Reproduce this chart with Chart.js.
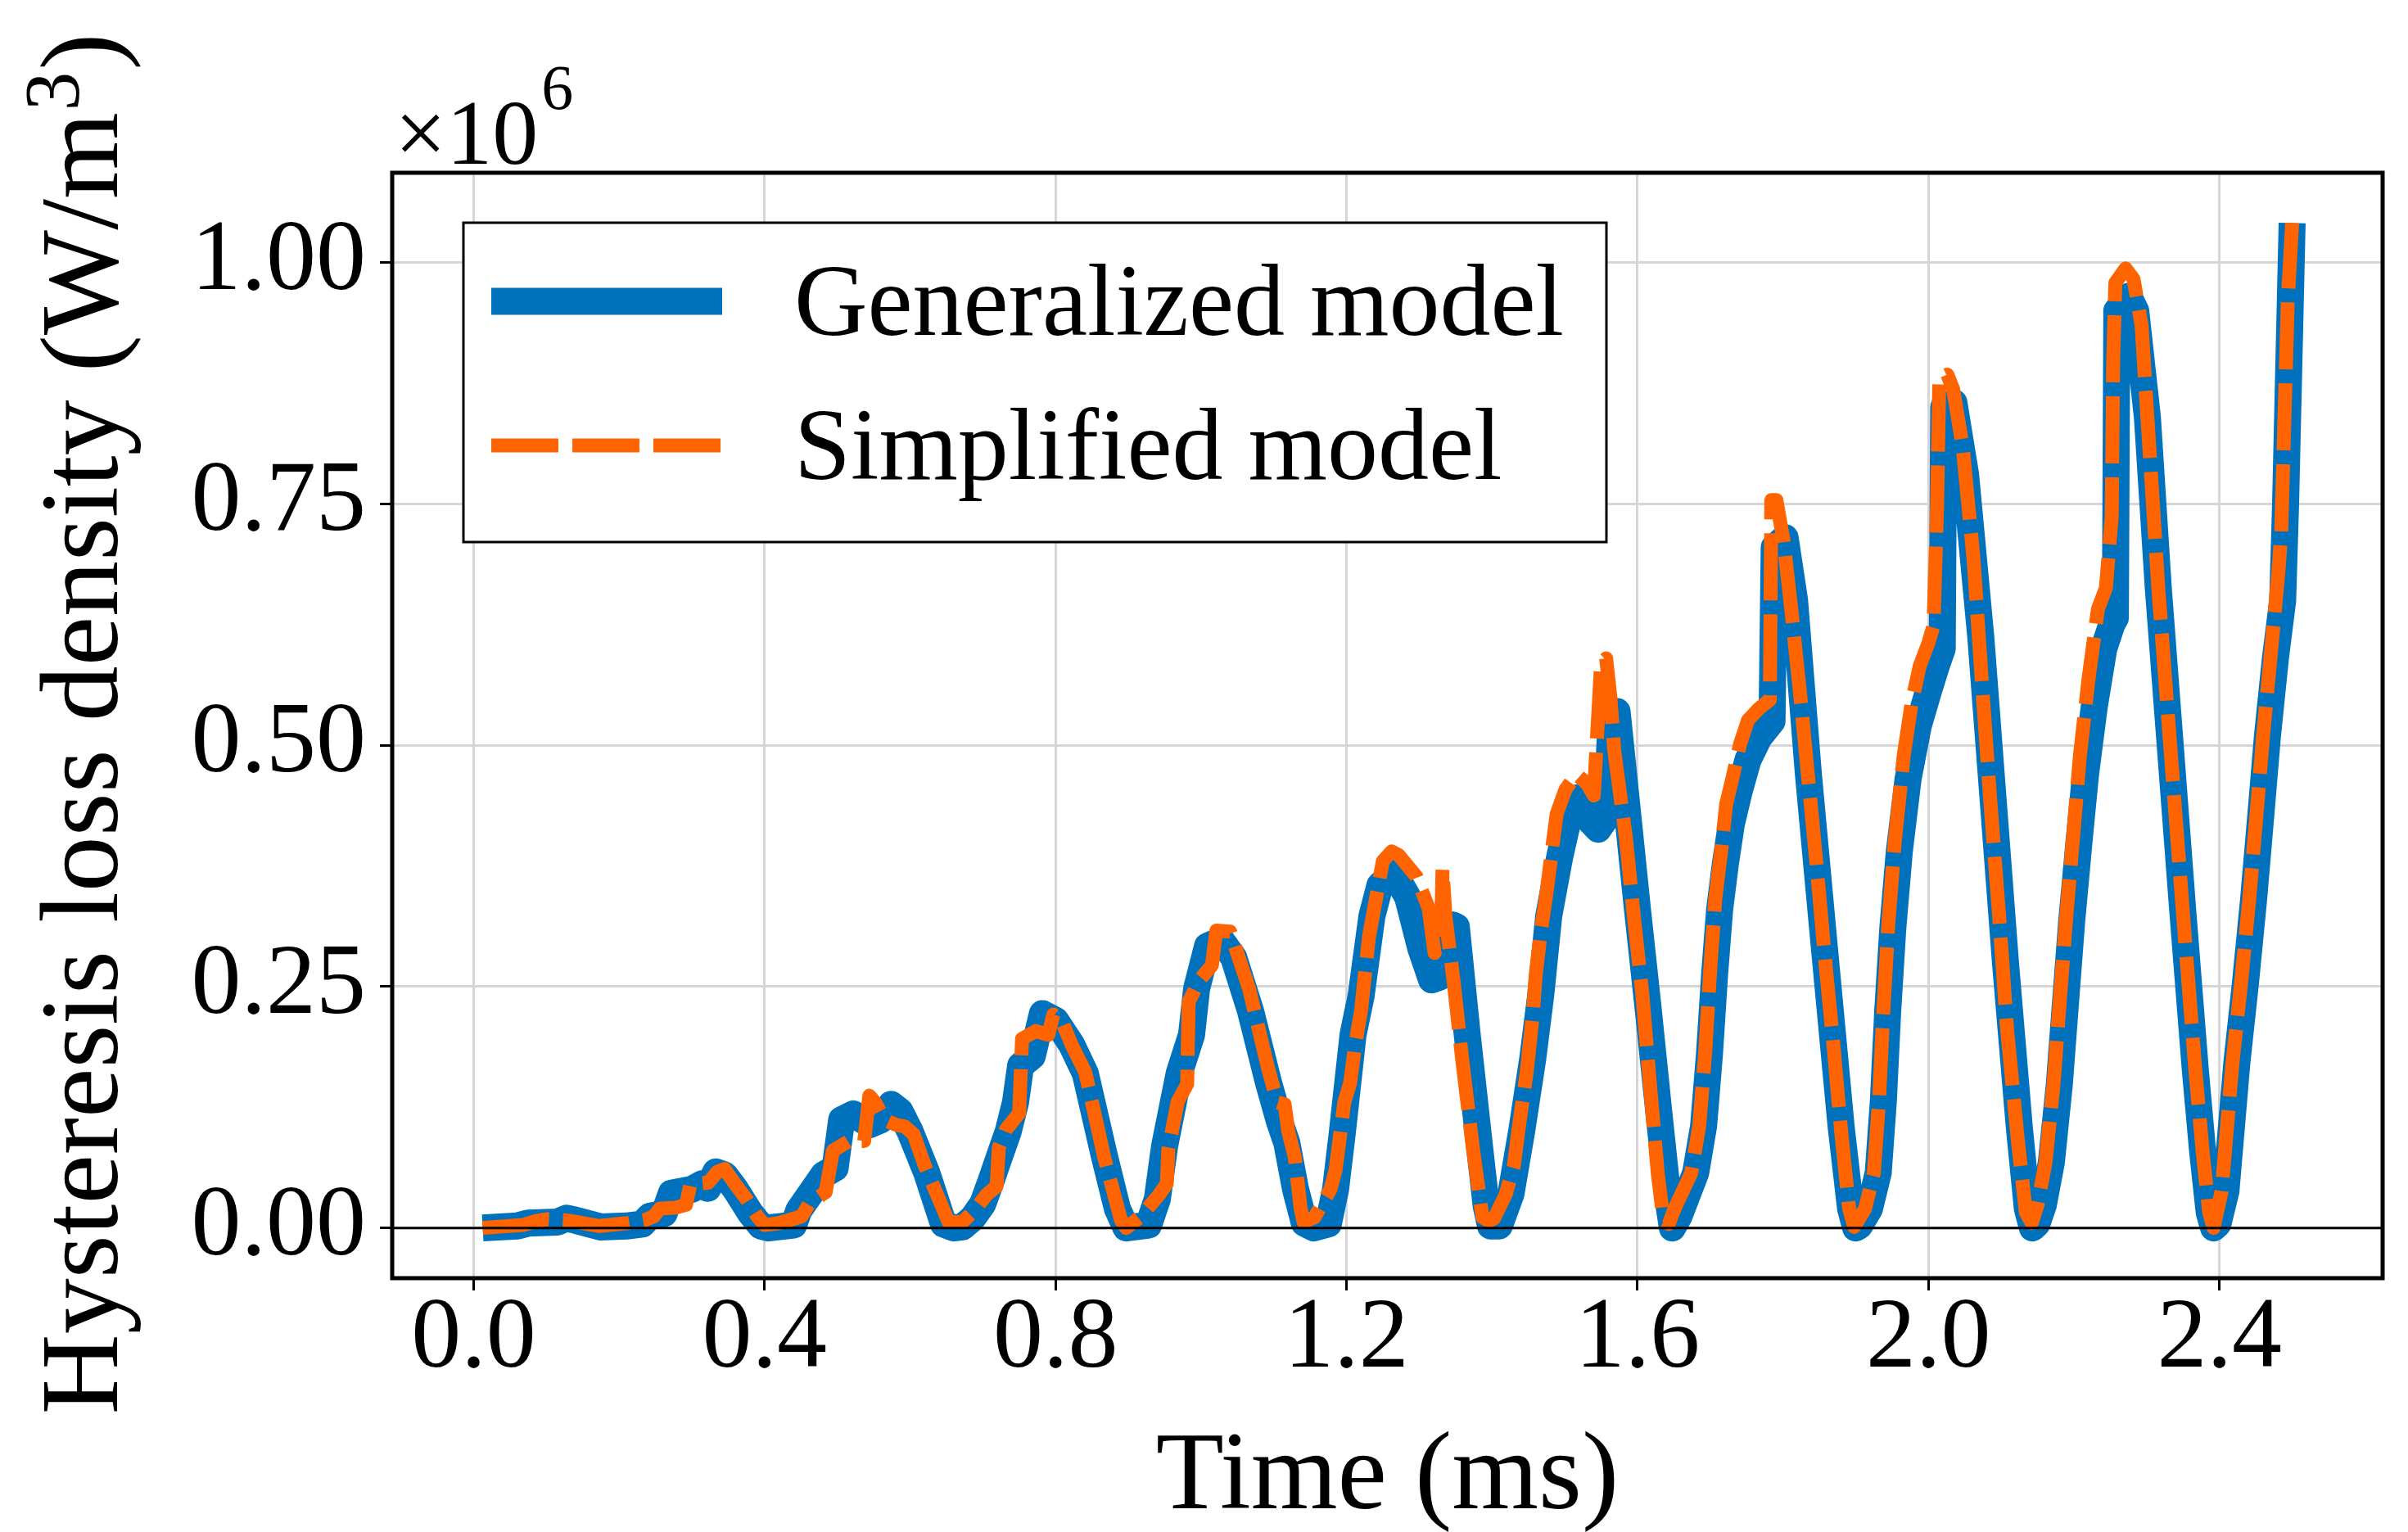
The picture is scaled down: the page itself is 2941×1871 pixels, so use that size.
<!DOCTYPE html>
<html lang="en">
<head>
<meta charset="utf-8">
<title>Hysteresis loss density</title>
<script src="https://cdn.jsdelivr.net/npm/chart.js@4.4.1/dist/chart.umd.min.js"></script>
<style>
  html, body { margin: 0; padding: 0; background: #fff; }
  canvas { display: block; }
</style>
</head>
<body>
<canvas id="loss-chart" width="2941" height="1871" style="width:2941px;height:1871px"></canvas>
<script>
"use strict";

// ── Data (values in units of 1e6 W/m³, time in ms) ──────────────────

const SERIES_LABELS = ["Generalized model", "Simplified model"];
const X_TICKS = [0, 0.4, 0.8, 1.2, 1.6, 2.0, 2.4];
const Y_TICKS = [0, 0.25, 0.5, 0.75, 1.0];
const X_RANGE = [-0.1119, 2.6244];
const Y_RANGE = [-0.05205, 1.09305];
const ZERO_LEVEL = 0;
const OFFSET_EXPONENT = "6";

// Generalized model (solid blue)
const GEN_T = [
  0.0125, 0.060, 0.075, 0.115, 0.128, 0.140, 0.175, 0.210, 0.232, 0.242, 0.262, 0.272, 0.300, 0.315, 0.322, 0.333, 0.345, 0.360, 0.380, 0.395, 0.405,
  0.440, 0.447, 0.481, 0.497, 0.506, 0.522, 0.545, 0.560, 0.574, 0.586, 0.600, 0.623, 0.646, 0.660,
  0.672, 0.686, 0.700, 0.712, 0.722, 0.735, 0.745, 0.752, 0.768, 0.782, 0.800, 0.822, 0.841, 0.867, 0.885, 0.897,
  0.928, 0.940, 0.950, 0.970, 0.987, 0.994, 1.009, 1.028, 1.045, 1.068, 1.093, 1.108, 1.118, 1.130, 1.142, 1.155,
  1.175, 1.185, 1.194, 1.209, 1.220, 1.235, 1.246, 1.265, 1.284, 1.302, 1.317, 1.328, 1.345, 1.351, 1.366, 1.381, 1.392, 1.398,
  1.410, 1.426, 1.441, 1.456, 1.467, 1.478, 1.493, 1.508, 1.520, 1.531, 1.546, 1.557, 1.564, 1.572, 1.585, 1.600, 1.615, 1.630, 1.642, 1.648,
  1.657, 1.680, 1.691, 1.699, 1.706, 1.713, 1.721, 1.729, 1.739, 1.752, 1.767, 1.785, 1.788, 1.803, 1.816, 1.835, 1.857, 1.880, 1.893, 1.900,
  1.905, 1.919, 1.931, 1.938, 1.944, 1.951, 1.960, 1.972, 1.986, 2.000, 2.012, 2.019, 2.021, 2.035, 2.051, 2.072, 2.089, 2.106, 2.125, 2.136, 2.143,
  2.149, 2.158, 2.169, 2.180, 2.188, 2.197, 2.207, 2.216, 2.228, 2.241, 2.252, 2.257, 2.259, 2.275, 2.285, 2.301, 2.316, 2.333, 2.350, 2.367, 2.377, 2.386, 2.392,
  2.398, 2.409, 2.424, 2.436, 2.447, 2.457, 2.466, 2.477, 2.487, 2.491, 2.500,
];
const GEN_V = [
  0.000, 0.002, 0.005, 0.006, 0.010, 0.008, 0.001, 0.002, 0.004, 0.012, 0.015, 0.036, 0.040, 0.046, 0.041, 0.058, 0.055, 0.040, 0.016, 0.002, 0.000,
  0.003, 0.018, 0.055, 0.062, 0.112, 0.118, 0.107, 0.112, 0.128, 0.121, 0.100, 0.057, 0.004, 0.000,
  0.001, 0.010, 0.025, 0.050, 0.072, 0.100, 0.130, 0.168, 0.178, 0.222, 0.215, 0.190, 0.160, 0.075, 0.020, 0.000,
  0.003, 0.030, 0.085, 0.160, 0.200, 0.248, 0.292, 0.298, 0.280, 0.225, 0.150, 0.110, 0.088, 0.040, 0.005, 0.000,
  0.004, 0.040, 0.097, 0.200, 0.240, 0.323, 0.355, 0.368, 0.343, 0.290, 0.257, 0.260, 0.314, 0.312, 0.200, 0.097, 0.023, 0.002,
  0.002, 0.035, 0.101, 0.175, 0.241, 0.323, 0.384, 0.434, 0.446, 0.425, 0.413, 0.425, 0.528, 0.535, 0.440, 0.330, 0.225, 0.115, 0.030, 0.000,
  0.012, 0.057, 0.106, 0.180, 0.262, 0.330, 0.378, 0.418, 0.450, 0.485, 0.508, 0.525, 0.705, 0.715, 0.650, 0.470, 0.290, 0.105, 0.020, 0.000,
  0.002, 0.020, 0.057, 0.131, 0.224, 0.310, 0.390, 0.465, 0.520, 0.556, 0.585, 0.600, 0.850, 0.855, 0.781, 0.612, 0.443, 0.274, 0.104, 0.020, 0.000,
  0.004, 0.024, 0.068, 0.149, 0.229, 0.318, 0.400, 0.470, 0.540, 0.600, 0.625, 0.632, 0.950, 0.965, 0.950, 0.840, 0.663, 0.494, 0.325, 0.163, 0.079, 0.016, 0.000,
  0.004, 0.038, 0.171, 0.255, 0.340, 0.428, 0.509, 0.590, 0.650, 0.750, 1.041,
];

// Simplified model (dashed orange)
const SIM_T = [
  0.0125, 0.068, 0.085, 0.100, 0.125, 0.135, 0.173, 0.211, 0.235, 0.248, 0.256, 0.278, 0.292, 0.298, 0.323, 0.335, 0.345, 0.360, 0.375, 0.390, 0.400,
  0.420, 0.451, 0.462, 0.484, 0.494, 0.516, 0.537, 0.544, 0.552, 0.565, 0.580, 0.593, 0.605, 0.619, 0.653,
  0.672, 0.687, 0.706, 0.719, 0.722, 0.732, 0.750, 0.754, 0.773, 0.790, 0.797, 0.810, 0.822, 0.841, 0.867, 0.890, 0.897,
  0.916, 0.942, 0.953, 0.955, 0.968, 0.981, 0.983, 0.998, 1.015, 1.021, 1.040, 1.066, 1.092, 1.105, 1.115, 1.120, 1.129, 1.137, 1.141,
  1.156, 1.178, 1.185, 1.197, 1.205, 1.212, 1.220, 1.231, 1.250, 1.262, 1.272, 1.296, 1.313, 1.321, 1.330, 1.332, 1.336, 1.347, 1.359, 1.374, 1.387, 1.396,
  1.403, 1.419, 1.430, 1.437, 1.448, 1.456, 1.460, 1.467, 1.475, 1.482, 1.489, 1.501, 1.516, 1.531, 1.540, 1.550, 1.557, 1.563, 1.568, 1.584, 1.595, 1.607, 1.617, 1.628, 1.636,
  1.643, 1.651, 1.674, 1.685, 1.693, 1.700, 1.707, 1.715, 1.722, 1.730, 1.741, 1.752, 1.767, 1.782, 1.784, 1.791, 1.801, 1.812, 1.824, 1.835, 1.846, 1.857, 1.869, 1.880, 1.891, 1.898,
  1.913, 1.925, 1.932, 1.938, 1.945, 1.954, 1.966, 1.977, 1.988, 2.000, 2.007, 2.012, 2.015, 2.026, 2.034, 2.047, 2.062, 2.074, 2.085, 2.097, 2.108, 2.123, 2.134, 2.142,
  2.150, 2.161, 2.172, 2.180, 2.189, 2.199, 2.208, 2.220, 2.233, 2.244, 2.252, 2.254, 2.257, 2.271, 2.282, 2.293, 2.301, 2.316, 2.333, 2.350, 2.367, 2.377, 2.386, 2.392,
  2.403, 2.418, 2.430, 2.441, 2.451, 2.460, 2.471, 2.481, 2.485, 2.494, 2.500,
];
const SIM_V = [
  0.000, 0.003, 0.007, 0.009, 0.008, 0.007, 0.002, 0.005, 0.008, 0.012, 0.020, 0.021, 0.024, 0.045, 0.047, 0.058, 0.061, 0.045, 0.030, 0.012, 0.003,
  0.005, 0.012, 0.026, 0.037, 0.080, 0.090, 0.090, 0.137, 0.130, 0.112, 0.107, 0.105, 0.097, 0.067, 0.006,
  0.006, 0.017, 0.035, 0.043, 0.083, 0.102, 0.119, 0.196, 0.204, 0.200, 0.221, 0.212, 0.190, 0.161, 0.073, 0.008, 0.000,
  0.011, 0.034, 0.046, 0.081, 0.131, 0.149, 0.234, 0.257, 0.272, 0.308, 0.307, 0.248, 0.166, 0.130, 0.128, 0.100, 0.073, 0.020, 0.006,
  0.011, 0.040, 0.060, 0.130, 0.150, 0.190, 0.225, 0.302, 0.380, 0.390, 0.386, 0.364, 0.331, 0.285, 0.300, 0.372, 0.323, 0.257, 0.175, 0.081, 0.011, 0.007,
  0.010, 0.035, 0.064, 0.105, 0.163, 0.220, 0.261, 0.306, 0.347, 0.389, 0.429, 0.454, 0.470, 0.460, 0.448, 0.585, 0.590, 0.548, 0.495, 0.405, 0.323, 0.240, 0.150, 0.056, 0.007,
  0.004, 0.020, 0.057, 0.106, 0.180, 0.267, 0.341, 0.390, 0.439, 0.464, 0.501, 0.526, 0.538, 0.547, 0.754, 0.754, 0.711, 0.637, 0.550, 0.464, 0.378, 0.285, 0.193, 0.100, 0.020, 0.001,
  0.020, 0.057, 0.131, 0.224, 0.316, 0.402, 0.489, 0.544, 0.582, 0.606, 0.624, 0.750, 0.880, 0.884, 0.869, 0.810, 0.693, 0.560, 0.443, 0.325, 0.207, 0.090, 0.016, 0.005,
  0.024, 0.068, 0.149, 0.229, 0.318, 0.406, 0.487, 0.568, 0.641, 0.663, 0.737, 0.899, 0.979, 0.994, 0.983, 0.935, 0.840, 0.663, 0.494, 0.325, 0.163, 0.079, 0.016, 0.000,
  0.038, 0.171, 0.255, 0.340, 0.428, 0.509, 0.597, 0.678, 0.720, 0.960, 1.041,
];

// ── Layout & style ──────────────────────────────────────────────────

const CANVAS_W = 2941;
const CANVAS_H = 1871;
//: Plot frame in canvas pixels (matplotlib axes box of the original figure).
const PLOT = { left: 479, right: 2910, top: 211, bottom: 1561 };
const SERIF = '"Liberation Serif", "Times New Roman", Times, serif';
const BLUE = "#0072BD";
const ORANGE = "#FF6400";
const GRID_COLOR = "#d6d6d6";
const TICK_FONT = 122;
const LABEL_FONT = 136;
const LEGEND = {
  x: 566, y: 272, w: 1396, h: 390,
  lineX0: 600, lineX1: 882, rowY: [368, 544],
  textX: 970, textDy: 41, fontSize: 124,
};

function font(size) {
  return `${size}px ${SERIF}`;
}

/** Pairs two parallel arrays into Chart.js {x, y} points. */
function toPoints(ts, vs) {
  return ts.map((t, i) => ({ x: t, y: vs[i] }));
}

// ── Decorations: frame, titles, offset text, legend ───────────────────

function drawFrame(ctx, a) {
  ctx.strokeStyle = "#000";
  ctx.lineWidth = 5;
  ctx.setLineDash([]);
  ctx.strokeRect(a.left, a.top, a.right - a.left, a.bottom - a.top);
}

function drawOffsetText(ctx, a) {
  ctx.fillStyle = "#000";
  ctx.textAlign = "left";
  ctx.textBaseline = "alphabetic";
  ctx.font = font(112);
  const base = "\u00d710";
  ctx.fillText(base, a.left + 3, 200);
  const w = ctx.measureText(base).width;
  ctx.font = font(78);
  ctx.fillText(OFFSET_EXPONENT, a.left + 3 + w + 4, 133);
}

function drawYTitle(ctx, a) {
  const main = "Hysteresis loss density (W/m";
  const sup = "3";
  const tail = ")";
  ctx.save();
  ctx.translate(143, (a.top + a.bottom) / 2);
  ctx.rotate(-Math.PI / 2);
  ctx.fillStyle = "#000";
  ctx.textAlign = "left";
  ctx.textBaseline = "alphabetic";
  ctx.font = font(LABEL_FONT);
  const w1 = ctx.measureText(main).width;
  const w3 = ctx.measureText(tail).width;
  ctx.font = font(95);
  const w2 = ctx.measureText(sup).width;
  let x = -(w1 + w2 + w3) / 2;
  ctx.font = font(LABEL_FONT);
  ctx.fillText(main, x, 0);
  x += w1;
  ctx.font = font(95);
  ctx.fillText(sup, x + 2, -47);
  x += w2 + 4;
  ctx.font = font(LABEL_FONT);
  ctx.fillText(tail, x, 0);
  ctx.restore();
}

function drawXTitle(ctx, a) {
  ctx.fillStyle = "#000";
  ctx.textAlign = "center";
  ctx.textBaseline = "alphabetic";
  ctx.font = font(LABEL_FONT);
  ctx.fillText("Time (ms)", (a.left + a.right) / 2, 1842);
}

function drawLegend(chart) {
  const { ctx } = chart;
  ctx.fillStyle = "#fff";
  ctx.fillRect(LEGEND.x, LEGEND.y, LEGEND.w, LEGEND.h);
  ctx.strokeStyle = "#000";
  ctx.lineWidth = 3;
  ctx.setLineDash([]);
  ctx.strokeRect(LEGEND.x, LEGEND.y, LEGEND.w, LEGEND.h);

  SERIES_LABELS.forEach((label, i) => {
    const ds = chart.data.datasets.find((d) => d.label === label);
    const y = LEGEND.rowY[i];
    ctx.save();
    ctx.strokeStyle = ds.borderColor;
    ctx.lineWidth = ds.borderWidth;
    ctx.lineCap = "butt";
    ctx.setLineDash(ds.borderDash || []);
    ctx.beginPath();
    ctx.moveTo(LEGEND.lineX0, y);
    ctx.lineTo(LEGEND.lineX1, y);
    ctx.stroke();
    ctx.restore();

    ctx.fillStyle = "#000";
    ctx.textAlign = "left";
    ctx.textBaseline = "alphabetic";
    ctx.font = font(LEGEND.fontSize);
    ctx.fillText(label, LEGEND.textX, y + LEGEND.textDy);
  });
}

const decorPlugin = {
  id: "decor",
  beforeDraw(chart) {
    const { ctx } = chart;
    ctx.save();
    ctx.fillStyle = "#fff";
    ctx.fillRect(0, 0, chart.width, chart.height);
    ctx.restore();
  },
  afterDraw(chart) {
    const { ctx, chartArea } = chart;
    ctx.save();
    drawFrame(ctx, chartArea);
    drawOffsetText(ctx, chartArea);
    drawYTitle(ctx, chartArea);
    drawXTitle(ctx, chartArea);
    drawLegend(chart);
    ctx.restore();
  },
};

// ── Chart ──────────────────────────────────────────────────────────────

const axisGrid = {
  color: GRID_COLOR,
  lineWidth: 3,
  drawTicks: true,
  tickLength: 15,
  tickWidth: 3,
  tickColor: "#000",
};

new Chart(document.getElementById("loss-chart"), {
  type: "line",
  data: {
    datasets: [
      {
        label: "zero",
        data: [{ x: X_RANGE[0], y: ZERO_LEVEL }, { x: X_RANGE[1], y: ZERO_LEVEL }],
        borderColor: "#000",
        borderWidth: 3,
        order: 0,
      },
      {
        label: SERIES_LABELS[1],
        data: toPoints(SIM_T, SIM_V),
        borderColor: ORANGE,
        borderWidth: 17,
        borderDash: [82, 17],
        borderCapStyle: "butt",
        borderJoinStyle: "round",
        order: 1,
      },
      {
        label: SERIES_LABELS[0],
        data: toPoints(GEN_T, GEN_V),
        borderColor: BLUE,
        borderWidth: 33,
        borderCapStyle: "butt",
        borderJoinStyle: "round",
        order: 2,
      },
    ],
  },
  options: {
    responsive: false,
    animation: false,
    devicePixelRatio: 1,
    layout: { padding: { top: PLOT.top, right: CANVAS_W - PLOT.right, bottom: 0, left: 0 } },
    elements: { point: { radius: 0 }, line: { tension: 0, fill: false } },
    plugins: { legend: { display: false }, tooltip: { enabled: false }, title: { display: false } },
    scales: {
      x: {
        type: "linear",
        min: X_RANGE[0],
        max: X_RANGE[1],
        afterBuildTicks: (scale) => { scale.ticks = X_TICKS.map((v) => ({ value: v })); },
        afterFit: (scale) => { scale.height = CANVAS_H - PLOT.bottom; },
        ticks: {
          font: { family: SERIF, size: TICK_FONT, lineHeight: 1 },
          color: "#000",
          padding: 0,
          maxRotation: 0,
          autoSkip: false,
          callback: (v) => Number(v).toFixed(1),
        },
        grid: axisGrid,
        border: { display: false },
      },
      y: {
        type: "linear",
        min: Y_RANGE[0],
        max: Y_RANGE[1],
        afterBuildTicks: (scale) => { scale.ticks = Y_TICKS.map((v) => ({ value: v })); },
        afterFit: (scale) => { scale.width = PLOT.left; },
        ticks: {
          font: { family: SERIF, size: TICK_FONT, lineHeight: 1 },
          color: "#000",
          padding: 17,
          autoSkip: false,
          callback: (v) => Number(v).toFixed(2),
        },
        grid: axisGrid,
        border: { display: false },
      },
    },
  },
  plugins: [decorPlugin],
});
</script>
</body>
</html>
